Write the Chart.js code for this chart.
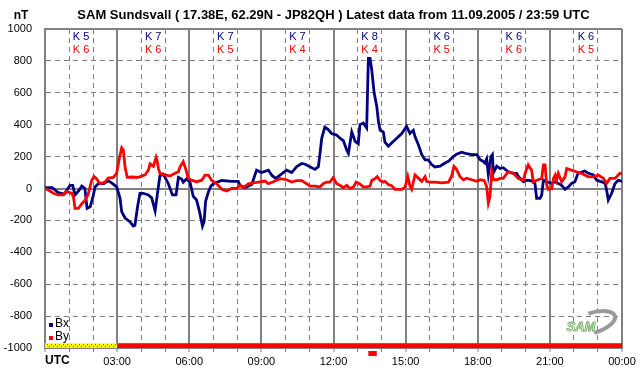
<!DOCTYPE html>
<html>
<head>
<meta charset="utf-8">
<script src="https://cdn.jsdelivr.net/npm/chart.js@4.4.0/dist/chart.umd.min.js"></script>
<style>
  html, body { margin: 0; padding: 0; background: #fff; }
  canvas { display: block; }
</style>
</head>
<body>
<canvas id="samChart" width="642" height="376"></canvas>
<script>
// --- data: [hour UTC, nT] ---
const bxSeries = [
  [0,5],[0.3,5],[0.55,-25],[0.8,-35],[1.04,20],[1.15,20],[1.25,-40],[1.4,-15],[1.53,15],[1.66,0],
  [1.75,-125],[1.88,-115],[2.0,-50],[2.08,10],[2.22,30],[2.45,30],[2.63,48],[2.77,35],[2.98,10],
  [3.12,-60],[3.19,-145],[3.33,-185],[3.54,-210],[3.67,-235],[3.74,-230],[3.85,-115],[3.95,-30],
  [4.09,-30],[4.3,-40],[4.44,-60],[4.58,-140],[4.67,-40],[4.78,80],[4.92,90],[5.13,30],[5.3,-40],
  [5.45,-40],[5.55,70],[5.68,60],[5.75,40],[5.89,60],[6.03,40],[6.17,-50],[6.3,-70],[6.42,-140],
  [6.55,-235],[6.62,-205],[6.68,-80],[6.8,-20],[6.9,15],[7.0,30],[7.35,50],[7.76,45],[8.04,45],
  [8.11,20],[8.32,5],[8.6,25],[8.8,115],[9.01,100],[9.29,115],[9.45,80],[9.6,63],[9.78,84],
  [10.05,115],[10.26,100],[10.47,137],[10.68,157],[10.82,152],[11.02,137],[11.23,120],[11.37,137],
  [11.44,220],[11.51,315],[11.64,385],[11.78,370],[11.92,345],[12.13,335],[12.27,315],[12.41,300],
  [12.55,240],[12.62,220],[12.76,355],[12.9,295],[13.03,280],[13.1,400],[13.24,410],[13.38,380],
  [13.45,815],[13.52,815],[13.59,745],[13.69,600],[13.8,515],[13.87,420],[13.94,365],[14.07,355],
  [14.14,290],[14.28,265],[14.42,285],[14.63,315],[14.84,345],[15.04,390],[15.18,345],[15.32,365],
  [15.39,325],[15.53,275],[15.67,212],[15.81,180],[15.94,180],[16.08,150],[16.22,135],[16.43,140],
  [16.64,160],[16.78,170],[16.98,200],[17.12,215],[17.33,228],[17.54,218],[17.75,212],[17.96,212],
  [18.1,180],[18.23,170],[18.3,160],[18.37,185],[18.44,88],[18.55,200],[18.61,212],[18.65,98],
  [18.79,140],[18.93,125],[19.06,130],[19.27,105],[19.48,95],[19.62,95],[19.69,75],[19.9,42],
  [20.03,52],[20.24,48],[20.38,32],[20.45,-62],[20.59,-62],[20.66,-42],[20.73,52],[20.87,42],
  [21.08,32],[21.22,42],[21.35,32],[21.49,20],[21.63,-5],[21.77,10],[21.9,32],[22.04,42],
  [22.17,95],[22.45,110],[22.6,95],[22.81,85],[22.95,52],[23.16,42],[23.3,32],[23.36,-10],
  [23.43,-72],[23.57,-30],[23.71,32],[23.84,52],[24,45]
];

const bySeries = [
  [0,0],[0.14,-10],[0.35,-30],[0.55,-40],[0.76,-40],[0.9,-20],[1.11,-30],[1.18,-50],[1.25,-125],
  [1.39,-125],[1.53,-95],[1.66,-75],[1.8,-35],[1.94,50],[2.04,75],[2.15,60],[2.29,30],[2.5,40],
  [2.63,65],[2.84,70],[2.98,95],[3.09,190],[3.19,255],[3.26,240],[3.33,135],[3.42,70],[3.61,72],
  [3.88,70],[4.16,85],[4.3,115],[4.37,155],[4.51,140],[4.62,195],[4.67,170],[4.72,125],[4.78,95],
  [4.99,85],[5.2,78],[5.41,95],[5.55,105],[5.62,137],[5.75,168],[5.85,125],[5.96,63],[6.09,52],
  [6.31,42],[6.52,52],[6.66,84],[6.79,84],[6.93,52],[7.14,30],[7.35,-5],[7.56,-15],[7.76,0],
  [7.97,0],[8.11,20],[8.25,5],[8.46,30],[8.74,37],[8.94,42],[9.15,47],[9.29,30],[9.5,42],
  [9.78,62],[10.05,55],[10.26,40],[10.47,50],[10.68,50],[10.88,30],[11.02,15],[11.23,15],
  [11.44,10],[11.57,30],[11.71,40],[11.85,40],[11.99,68],[12.13,30],[12.27,20],[12.41,5],
  [12.55,20],[12.69,0],[12.83,10],[12.94,40],[13.08,30],[13.24,10],[13.38,10],[13.52,15],
  [13.59,50],[13.73,62],[13.82,75],[13.94,50],[14.07,40],[14.14,45],[14.28,25],[14.42,18],
  [14.56,-5],[14.84,-5],[14.98,10],[15.09,75],[15.18,15],[15.25,-5],[15.39,85],[15.53,65],
  [15.67,45],[15.81,75],[15.87,45],[16.01,40],[16.22,40],[16.5,35],[16.78,40],[16.91,75],
  [17.01,138],[17.12,120],[17.26,75],[17.4,55],[17.54,65],[17.75,55],[17.96,45],[18.1,55],
  [18.27,50],[18.37,12],[18.44,-90],[18.51,-48],[18.58,105],[18.65,55],[18.79,55],[18.93,63],
  [19.06,63],[19.27,105],[19.48,95],[19.69,63],[19.9,52],[19.97,95],[20.1,148],[20.24,115],
  [20.31,42],[20.45,52],[20.66,63],[20.73,148],[20.8,148],[20.87,20],[20.94,-5],[21.08,0],
  [21.15,63],[21.22,84],[21.28,52],[21.35,95],[21.49,42],[21.63,73],[21.7,125],[21.9,115],
  [22.1,105],[22.31,95],[22.6,73],[22.81,73],[23.02,84],[23.23,63],[23.36,32],[23.5,63],
  [23.71,63],[23.91,95],[24,93]
];

// K index per 3-hour block
const kBx = [5, 7, 7, 7, 8, 6, 6, 6];
const kBy = [6, 6, 5, 4, 4, 5, 6, 5];

// x tick labels every 3 hours
const hourLabels = ["UTC", "03:00", "06:00", "09:00", "12:00", "15:00", "18:00", "21:00", "00:00"];

// data status strip along the bottom: [from, to, kind]
const statusBlocks = [[0, 3, "partial"], [3, 24, "ok"]];
const markerSpan = [13.45, 13.8];

const FONT = "'Liberation Sans', Arial, sans-serif";
const NAVY = "#000080";
const RED = "#ff0000";
const GRID = "#808080";

const extras = {
  id: "extras",
  afterDatasetsDraw(chart) {
    const { ctx, scales: { x, y }, chartArea } = chart;
    ctx.save();

    // status strip
    const top = y.getPixelForValue(-970);
    const bot = y.getPixelForValue(-1000);
    statusBlocks.forEach(([a, b, kind]) => {
      const x0 = x.getPixelForValue(a), x1 = x.getPixelForValue(b);
      if (kind === "ok") {
        ctx.fillStyle = RED;
        ctx.fillRect(x0, top, x1 - x0, bot - top);
      } else {
        ctx.fillStyle = "#ffff00";
        ctx.fillRect(x0, top, x1 - x0, bot - top);
        ctx.fillStyle = RED;
        for (let px = x0 + 2; px < x1 - 1; px += 4) {
          ctx.fillRect(px, top + 1, 1, 1);
          ctx.fillRect(px + 2, top + 3, 1, 1);
        }
      }
    });
    // marker below the axis
    const m0 = x.getPixelForValue(markerSpan[0]), m1 = x.getPixelForValue(markerSpan[1]);
    ctx.fillStyle = RED;
    ctx.fillRect(m0, chartArea.bottom + 3, m1 - m0, 5);

    // K labels
    ctx.font = "11px " + FONT;
    ctx.textAlign = "center";
    ctx.textBaseline = "middle";
    kBx.forEach((k, i) => {
      const cx = x.getPixelForValue(i * 3 + 1.5);
      ctx.fillStyle = NAVY;
      ctx.fillText("K " + k, cx, chartArea.top + 8);
      ctx.fillStyle = RED;
      ctx.fillText("K " + kBy[i], cx, chartArea.top + 21);
    });

    // legend
    const items = [["Bx", NAVY], ["By", RED]];
    ctx.textAlign = "left";
    ctx.font = "12px " + FONT;
    items.forEach(([label, color], i) => {
      const ly = chartArea.bottom - 24 + i * 13;
      ctx.fillStyle = color;
      ctx.fillRect(chartArea.left + 4, ly - 1, 4, 4);
      ctx.fillStyle = "#000";
      ctx.fillText(label, chartArea.left + 10, ly);
    });

    // unit + UTC
    ctx.fillStyle = "#000";
    ctx.font = "bold 12px " + FONT;
    ctx.textAlign = "center";
    ctx.fillText("nT", 21, 16);
    ctx.textAlign = "left";
    ctx.fillText("UTC", chartArea.left, 361);

    // SAM logo
    ctx.strokeStyle = "#9a9a9a";
    ctx.lineWidth = 4;
    ctx.beginPath();
    ctx.ellipse(592, 323, 24, 10, -0.3, -1.6, 1.6);
    ctx.stroke();
    ctx.font = "italic bold 13px " + FONT;
    ctx.fillStyle = "#ffffff";
    ctx.strokeStyle = "#7fb56f";
    ctx.lineWidth = 1;
    ctx.textAlign = "center";
    ctx.fillText("SAM", 581, 327);
    ctx.strokeText("SAM", 581, 327);

    ctx.restore();
  }
};

new Chart(document.getElementById("samChart").getContext("2d"), {
  type: "line",
  data: {
    datasets: [
      {
        label: "By",
        data: bySeries.map(([h, v]) => ({ x: h, y: v })),
        borderColor: RED,
        borderWidth: 2.8,
        pointRadius: 0,
        tension: 0,
      },
      {
        label: "Bx",
        data: bxSeries.map(([h, v]) => ({ x: h, y: v })),
        borderColor: NAVY,
        borderWidth: 2.8,
        pointRadius: 0,
        tension: 0,
      },
    ],
  },
  options: {
    responsive: false,
    animation: false,
    devicePixelRatio: 1,
    layout: { padding: { left: 0, right: 20, top: 0, bottom: 0 } },
    plugins: {
      legend: { display: false },
      tooltip: { enabled: false },
      title: {
        display: true,
        fullSize: false,
        text: "SAM Sundsvall ( 17.38E, 62.29N - JP82QH ) Latest data from 11.09.2005 / 23:59 UTC",
        color: "#000",
        font: { family: FONT, size: 13, weight: "bold" },
        padding: { top: 8, bottom: 5.4 },
      },
    },
    scales: {
      x: {
        type: "linear",
        min: 0,
        max: 24,
        afterFit: s => { s.height = 28; },
        ticks: {
          stepSize: 1,
          autoSkip: false,
          maxRotation: 0,
          padding: 3,
          color: "#000",
          font: { family: FONT, size: 11 },
          callback: v => (v % 3 === 0 && v > 0) ? hourLabels[v / 3] : "",
        },
        grid: {
          color: GRID,
          lineWidth: c => (c.tick && c.tick.value % 3 === 0) ? 2 : 1,
          tickLength: 4,
          tickColor: GRID,
          tickWidth: 1,
        },
        border: {
          color: GRID,
          width: 2,
          dash: c => (c.tick && c.tick.value % 3 !== 0) ? [5, 4] : [],
        },
      },
      y: {
        min: -1000,
        max: 1000,
        afterFit: s => { s.width = 45; },
        ticks: {
          stepSize: 200,
          padding: 13,
          color: "#000",
          font: { family: FONT, size: 11 },
          callback: v => String(v),
        },
        grid: {
          drawTicks: false,
          color: GRID,
          lineWidth: c => (c.tick && (c.tick.value === 0 || Math.abs(c.tick.value) === 1000)) ? 2 : 1,
        },
        border: {
          color: GRID,
          width: 2,
          dash: c => (c.tick && c.tick.value !== 0 && Math.abs(c.tick.value) !== 1000) ? [5, 4] : [],
        },
      },
    },
  },
  plugins: [extras],
});
</script>
</body>
</html>
